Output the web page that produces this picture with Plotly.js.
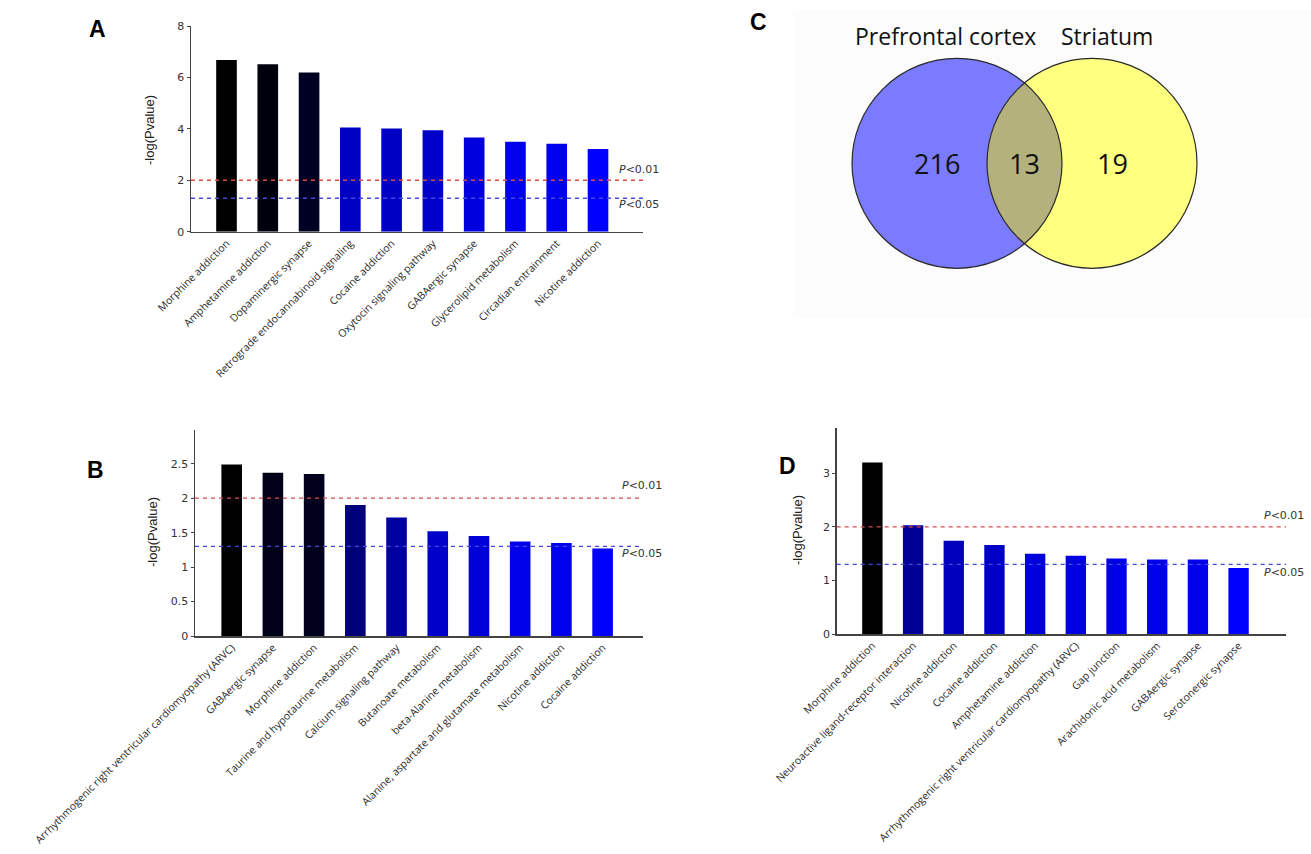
<!DOCTYPE html>
<html>
<head>
<meta charset="utf-8">
<script src="https://cdn.plot.ly/plotly-3.0.1.min.js"></script>
<style>html,body{margin:0;padding:0;background:#fff;}#chart{width:1311px;height:854px;}</style>
</head>
<body>
<div id="chart"></div>
<script>
// ---------- DATA ----------
const catsA = ["Morphine addiction","Amphetamine addiction","Dopaminergic synapse","Retrograde endocannabinoid signaling","Cocaine addiction","Oxytocin signaling pathway","GABAergic synapse","Glycerolipid metabolism","Circadian entrainment","Nicotine addiction"];
const valsA = [6.68, 6.51, 6.19, 4.05, 4.01, 3.95, 3.66, 3.50, 3.42, 3.22];

const catsB = ["Arrhythmogenic right ventricular cardiomyopathy (ARVC)","GABAergic synapse","Morphine addiction","Taurine and hypotaurine metabolism","Calcium signaling pathway","Butanoate metabolism","beta-Alanine metabolism","Alanine, aspartate and glutamate metabolism","Nicotine addiction","Cocaine addiction"];
const valsB = [2.49, 2.37, 2.35, 1.90, 1.72, 1.52, 1.45, 1.37, 1.35, 1.27];

const catsD = ["Morphine addiction","Neuroactive ligand-receptor interaction","Nicotine addiction","Cocaine addiction","Amphetamine addiction","Arrhythmogenic right ventricular cardiomyopathy (ARVC)","Gap junction","Arachidonic acid metabolism","GABAergic synapse","Serotonergic synapse"];
const valsD = [3.20, 2.03, 1.74, 1.66, 1.50, 1.46, 1.41, 1.39, 1.39, 1.23];

const pThresholds = [0.01, 0.05];
const pLabels = ["0.01", "0.05"];

const vennSets = ["Prefrontal cortex", "Striatum"];
const vennCounts = [216, 13, 19]; // PFC only, both, striatum only

// ---------- LAYOUT HELPERS ----------
const W = 1311, H = 854;
const px = x => x / W;
const py = y => 1 - y / H;

function barTrace(cats, vals, xa, ya) {
  return {
    type: 'bar', x: cats, y: vals, xaxis: xa, yaxis: ya, width: 0.5,
    marker: {color: vals, colorscale: [[0, '#0000ff'], [1, '#000000']],
             cmin: Math.min(...vals), cmax: Math.max(...vals), line: {width: 0}},
    hoverinfo: 'x+y', showlegend: false
  };
}

const tickFont = {family: 'DejaVu Sans, sans-serif', size: 11, color: '#333'};
const catFont = {family: 'Open Sans, sans-serif', size: 10.5, color: '#2a2a2a'};

function xAx(d0, d1, r0, r1, anchor) {
  return {domain: [px(d0), px(d1)], range: [r0, r1], anchor: anchor, type: 'category',
    showline: true, linecolor: '#444', linewidth: 1.5, ticks: '', showgrid: false,
    zeroline: false, tickangle: -45, tickfont: catFont, automargin: false, fixedrange: true};
}
function yAx(top, bottom, rmax, tickvals, ticktext, anchor) {
  return {domain: [py(bottom), py(top)], range: [0, rmax], anchor: anchor,
    showline: true, linecolor: '#444', linewidth: 1.5, ticks: 'outside', ticklen: 3,
    tickcolor: '#444', tickwidth: 1, tickvals: tickvals, ticktext: ticktext,
    showgrid: false, zeroline: false, tickfont: tickFont, automargin: false, fixedrange: true};
}

const data = [
  barTrace(catsA, valsA, 'x', 'y'),
  barTrace(catsB, valsB, 'x2', 'y2'),
  barTrace(catsD, valsD, 'x3', 'y3')
];

const shapes = [];
const annotations = [];
const threshColors = ['#e04848', '#4848e0'];

// threshold lines + labels
const panels = [
  {xr: 'x', yr: 'y', labelX: 617, labelY: [169, 205]},
  {xr: 'x2', yr: 'y2', labelX: 620, labelY: [486, 553]},
  {xr: 'x3', yr: 'y3', labelX: 1262, labelY: [515, 572]}
];
panels.forEach(p => {
  pThresholds.forEach((t, i) => {
    const v = -Math.log10(t);
    shapes.push({type: 'line', xref: p.xr + ' domain', yref: p.yr, x0: 0, x1: 1, y0: v, y1: v,
      line: {color: threshColors[i], width: 1.3, dash: '4px,4px'}, layer: 'above'});
    annotations.push({xref: 'paper', yref: 'paper', x: px(p.labelX), y: py(p.labelY[i]),
      xanchor: 'left', yanchor: 'middle', showarrow: false,
      text: '<i>P</i>&lt;' + pLabels[i],
      font: {family: 'DejaVu Sans, sans-serif', size: 11, color: '#333'}});
  });
});

// axis titles
[[150, 130], [152, 532], [797, 530]].forEach(([x, y]) => {
  annotations.push({xref: 'paper', yref: 'paper', x: px(x), y: py(y), xanchor: 'center', yanchor: 'middle',
    textangle: -90, showarrow: false, text: '-log(Pvalue)',
    font: {family: 'Liberation Sans, Arial, sans-serif', size: 13, color: '#222'}});
});

// panel letters
[['A', 97, 29], ['B', 95, 470], ['C', 758, 22], ['D', 788, 466]].forEach(([t, x, y]) => {
  annotations.push({xref: 'paper', yref: 'paper', x: px(x), y: py(y), xanchor: 'center', yanchor: 'middle',
    showarrow: false, text: '<b>' + t + '</b>',
    font: {family: 'Liberation Sans, Arial, sans-serif', size: 23, color: '#000'}});
});

// ---------- VENN (panel C) ----------
shapes.push({type: 'rect', xref: 'paper', yref: 'paper', x0: px(793), x1: px(1311), y0: py(318), y1: py(10),
  fillcolor: '#fcfcfc', line: {width: 0}, layer: 'below'});

const c1 = {x: 957, y: 163.3, r: 105};
const c2 = {x: 1092, y: 163.3, r: 105};
function circ(c, fill, lineW) {
  return {type: 'circle', xref: 'paper', yref: 'paper',
    x0: px(c.x - c.r), x1: px(c.x + c.r), y0: py(c.y + c.r), y1: py(c.y - c.r),
    fillcolor: fill, line: {color: '#2a2a2a', width: lineW}, layer: 'above'};
}
shapes.push(circ(c1, '#7b7bff', 0));
shapes.push(circ(c2, '#ffff80', 0));
// lens (intersection) polygon
(function () {
  const d = c2.x - c1.x;
  const a = (d * d + c1.r * c1.r - c2.r * c2.r) / (2 * d);
  const h = Math.sqrt(c1.r * c1.r - a * a);
  const t1 = Math.atan2(h, a);
  const t2 = Math.atan2(h, a - d);
  const pts = [];
  const N = 80;
  for (let i = 0; i <= N; i++) {
    const t = -t1 + (2 * t1) * i / N;
    pts.push([c1.x + c1.r * Math.cos(t), c1.y + c1.r * Math.sin(t)]);
  }
  for (let i = 0; i <= N; i++) {
    const t = t2 + (2 * Math.PI - 2 * t2) * i / N;
    pts.push([c2.x + c2.r * Math.cos(t), c2.y + c2.r * Math.sin(t)]);
  }
  const path = pts.map((p, i) => (i ? 'L' : 'M') + px(p[0]).toFixed(5) + ',' + py(p[1]).toFixed(5)).join(' ') + ' Z';
  shapes.push({type: 'path', xref: 'paper', yref: 'paper', path: path,
    fillcolor: '#b5b17c', line: {width: 0}, layer: 'above'});
})();
shapes.push(circ(c1, 'rgba(0,0,0,0)', 1.2));
shapes.push(circ(c2, 'rgba(0,0,0,0)', 1.2));

const vennFont = {family: 'Open Sans, sans-serif', size: 23, color: '#111'};
annotations.push({xref: 'paper', yref: 'paper', x: px(945), y: py(36), xanchor: 'center', yanchor: 'middle',
  showarrow: false, text: vennSets[0], font: vennFont});
annotations.push({xref: 'paper', yref: 'paper', x: px(1107), y: py(36), xanchor: 'center', yanchor: 'middle',
  showarrow: false, text: vennSets[1], font: vennFont});
const countPos = [[937, 163], [1024, 163], [1112, 163]];
vennCounts.forEach((n, i) => {
  annotations.push({xref: 'paper', yref: 'paper', x: px(countPos[i][0]), y: py(countPos[i][1]),
    xanchor: 'center', yanchor: 'middle', showarrow: false, text: String(n),
    font: {family: 'Open Sans, sans-serif', size: 27, color: '#111'}});
});

const layout = {
  width: W, height: H, margin: {l: 0, r: 0, t: 0, b: 0},
  paper_bgcolor: '#fff', plot_bgcolor: 'rgba(0,0,0,0)', showlegend: false,
  bargap: 0.5,
  xaxis: xAx(191, 643, -0.86, 10.09, 'y'),
  yaxis: yAx(26, 231.7, 8, [0, 2, 4, 6, 8], ['0', '2', '4', '6', '8'], 'x'),
  xaxis2: xAx(195, 643, -0.89, 9.98, 'y2'),
  yaxis2: yAx(430, 636, 2.99, [0, 0.5, 1, 1.5, 2, 2.5], ['0', '0.5', '1', '1.5', '2', '2.5'], 'x2'),
  xaxis3: xAx(836.7, 1286, -0.877, 10.165, 'y3'),
  yaxis3: yAx(428.3, 634, 3.84, [0, 1, 2, 3], ['0', '1', '2', '3'], 'x3'),
  shapes: shapes,
  annotations: annotations
};

Plotly.newPlot('chart', data, layout, {displayModeBar: false, staticPlot: true});
</script>
</body>
</html>
